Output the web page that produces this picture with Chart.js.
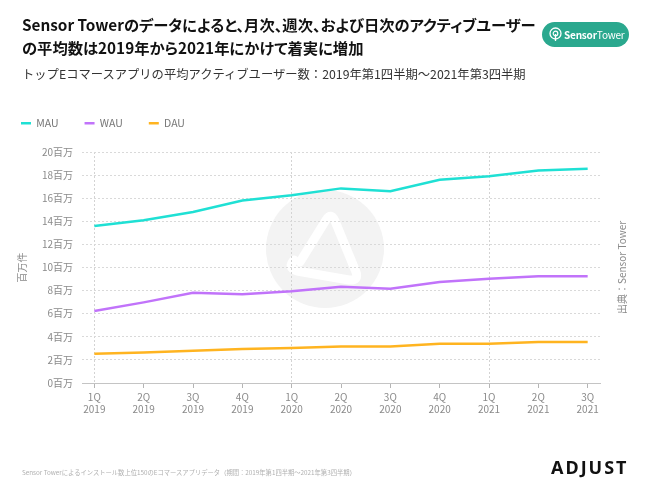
<!DOCTYPE html>
<html lang="ja">
<head>
<meta charset="utf-8">
<script src="https://cdn.jsdelivr.net/npm/chart.js@4.4.0/dist/chart.umd.min.js"></script>
<style>
  html, body { margin: 0; padding: 0; background: #fff; }
  body { width: 650px; height: 497px; position: relative; overflow: hidden; font-family: "Noto Sans CJK JP", "Noto Sans", sans-serif; }
  .title { position: absolute; left: 22px; top: 13px; font-size: 15.3px; font-weight: 700; line-height: 23px; color: #111; font-feature-settings: "palt"; white-space: nowrap; }
  .subtitle { position: absolute; left: 22px; top: 65px; font-size: 12.3px; color: #333; white-space: nowrap; }
  .logo { position: absolute; left: 542px; top: 22px; width: 87px; height: 25px; border-radius: 13px; background: #2aa88e; color: #fff; font-size: 10px; line-height: 25px; white-space: nowrap; letter-spacing: -0.2px; }
  .logo svg { position: absolute; left: 7px; top: 5px; }
  .logo span { position: absolute; left: 22px; top: 0; }
  .footer { position: absolute; left: 22px; top: 468px; font-size: 6.3px; color: #b0b0b0; white-space: nowrap; }
  .adjust { position: absolute; left: 551px; top: 455px; font-size: 18px; font-weight: 700; letter-spacing: 2px; color: #111; font-family: "Noto Sans", sans-serif; }
  #wm { position: absolute; left: 0; top: 0; }
  #chart { position: absolute; left: -5px; top: 0; }
</style>
</head>
<body>
<svg id="wm" width="650" height="497">
  <circle cx="325" cy="249" r="59" fill="#f3f3f3"/>
  <path d="M300 262 L326 220 Q331 212 335 221 L356 272 Q359 281 349 280 L297 271 Q287 268 294 260" fill="none" stroke="#fff" stroke-width="9" stroke-linecap="round" stroke-linejoin="round"/>
</svg>
<canvas id="chart" width="655" height="497"></canvas>
<div class="title">Sensor Towerのデータによると、月次、週次、および日次のアクティブユーザー<br>の平均数は2019年から2021年にかけて着実に増加</div>
<div class="subtitle">トップEコマースアプリの平均アクティブユーザー数：2019年第1四半期～2021年第3四半期</div>
<div class="logo">
  <svg width="13" height="15" viewBox="0 0 13 15"><circle cx="6.5" cy="6.5" r="5.5" fill="none" stroke="#fff" stroke-width="1.3"/><circle cx="6.5" cy="6.5" r="2.3" fill="none" stroke="#fff" stroke-width="1.2"/><line x1="6.5" y1="7" x2="6.5" y2="14" stroke="#fff" stroke-width="1.3"/></svg>
  <span><b>Sensor</b>Tower</span>
</div>
<div class="footer">Sensor Towerによるインストール数上位150のEコマースアプリデータ（期間：2019年第1四半期～2021年第3四半期）</div>
<div class="adjust">ADJUST</div>
<script>
const quarters = ["1Q", "2Q", "3Q", "4Q", "1Q", "2Q", "3Q", "4Q", "1Q", "2Q", "3Q"];
const years = ["2019", "2019", "2019", "2019", "2020", "2020", "2020", "2020", "2021", "2021", "2021"];
const mau = [13.6, 14.1, 14.8, 15.8, 16.25, 16.85, 16.6, 17.6, 17.9, 18.4, 18.55];
const wau = [6.23, 6.98, 7.82, 7.68, 7.94, 8.34, 8.17, 8.74, 9.03, 9.24, 9.24];
const dau = [2.54, 2.63, 2.8, 2.94, 3.03, 3.17, 3.17, 3.4, 3.4, 3.55, 3.55];
const yTicks = [0, 2, 4, 6, 8, 10, 12, 14, 16, 18, 20];

const tickFont = { family: "'Noto Sans CJK JP', 'Noto Sans', sans-serif", size: 10 };
const toPoints = (arr) => arr.map((v, i) => ({ x: i, y: v }));

// tighten the gap under the legend
const legendGap = {
  id: "legendGap",
  beforeInit(chart) {
    const fit = chart.legend.fit;
    chart.legend.fit = function () {
      fit.bind(chart.legend)();
      this.height = 60;
    };
  },
};

// source note on the right, reads bottom to top
const sourceNote = {
  id: "sourceNote",
  afterDraw(chart) {
    const { ctx, chartArea } = chart;
    ctx.save();
    ctx.translate(chartArea.right + 22, (chartArea.top + chartArea.bottom) / 2);
    ctx.rotate(-Math.PI / 2);
    ctx.fillStyle = "#8a8a8a";
    ctx.font = "10px 'Noto Sans CJK JP', sans-serif";
    ctx.textAlign = "center";
    ctx.textBaseline = "middle";
    ctx.fillText("出典：Sensor Tower", 0, 0);
    ctx.restore();
  },
};

new Chart(document.getElementById("chart"), {
  type: "line",
  data: {
    datasets: [
      { label: "MAU", data: toPoints(mau), borderColor: "#1fe0d4", backgroundColor: "#1fe0d4", borderWidth: 2.5 },
      { label: "WAU", data: toPoints(wau), borderColor: "#c173fa", backgroundColor: "#c173fa", borderWidth: 2.5 },
      { label: "DAU", data: toPoints(dau), borderColor: "#ffb420", backgroundColor: "#ffb420", borderWidth: 2.5 },
    ],
  },
  options: {
    responsive: false,
    animation: false,
    layout: { padding: { top: 92, right: 50, bottom: 74, left: 0 } },
    elements: {
      line: { tension: 0 },
      point: { radius: 0 },
    },
    plugins: {
      tooltip: { enabled: false },
      legend: {
        position: "top",
        align: "start",
        labels: {
          usePointStyle: true,
          pointStyle: "line",
          pointStyleWidth: 10,
          padding: 26,
          color: "#777",
          font: { family: tickFont.family, size: 10.5 },
        },
      },
    },
    scales: {
      x: {
        type: "linear",
        min: -0.25,
        max: 10.25,
        afterBuildTicks: (scale) => {
          scale.ticks = quarters.map((q, i) => ({ value: i }));
        },
        afterFit: (scale) => {
          scale.height = 40;
        },
        grid: {
          color: (ctx) => (ctx.tick && ctx.tick.value % 4 === 0 ? "#d3d3d3" : "rgba(0,0,0,0)"),
          tickColor: "#b5b5b5",
          tickLength: 5,
        },
        border: { color: "#c4c4c4", width: 1, dash: [2, 2] },
        ticks: {
          color: "#8a8a8a",
          font: tickFont,
          padding: 3,
          maxRotation: 0,
          autoSkip: false,
          callback: (value) => [quarters[value], years[value]],
        },
      },
      y: {
        min: 0,
        max: 20,
        afterBuildTicks: (scale) => {
          scale.ticks = yTicks.map((v) => ({ value: v }));
        },
        afterFit: (scale) => {
          scale.width = 87;
        },
        grid: { color: "#d9d9d9", drawTicks: false },
        border: { display: false, dash: [2, 2] },
        ticks: {
          color: "#8a8a8a",
          font: tickFont,
          padding: 9,
          callback: (value) => value + "百万",
        },
        title: {
          display: true,
          text: "百万件",
          color: "#8a8a8a",
          font: tickFont,
          padding: { top: 21, bottom: 0 },
        },
      },
    },
  },
  plugins: [legendGap, sourceNote],
});
</script>
</body>
</html>
